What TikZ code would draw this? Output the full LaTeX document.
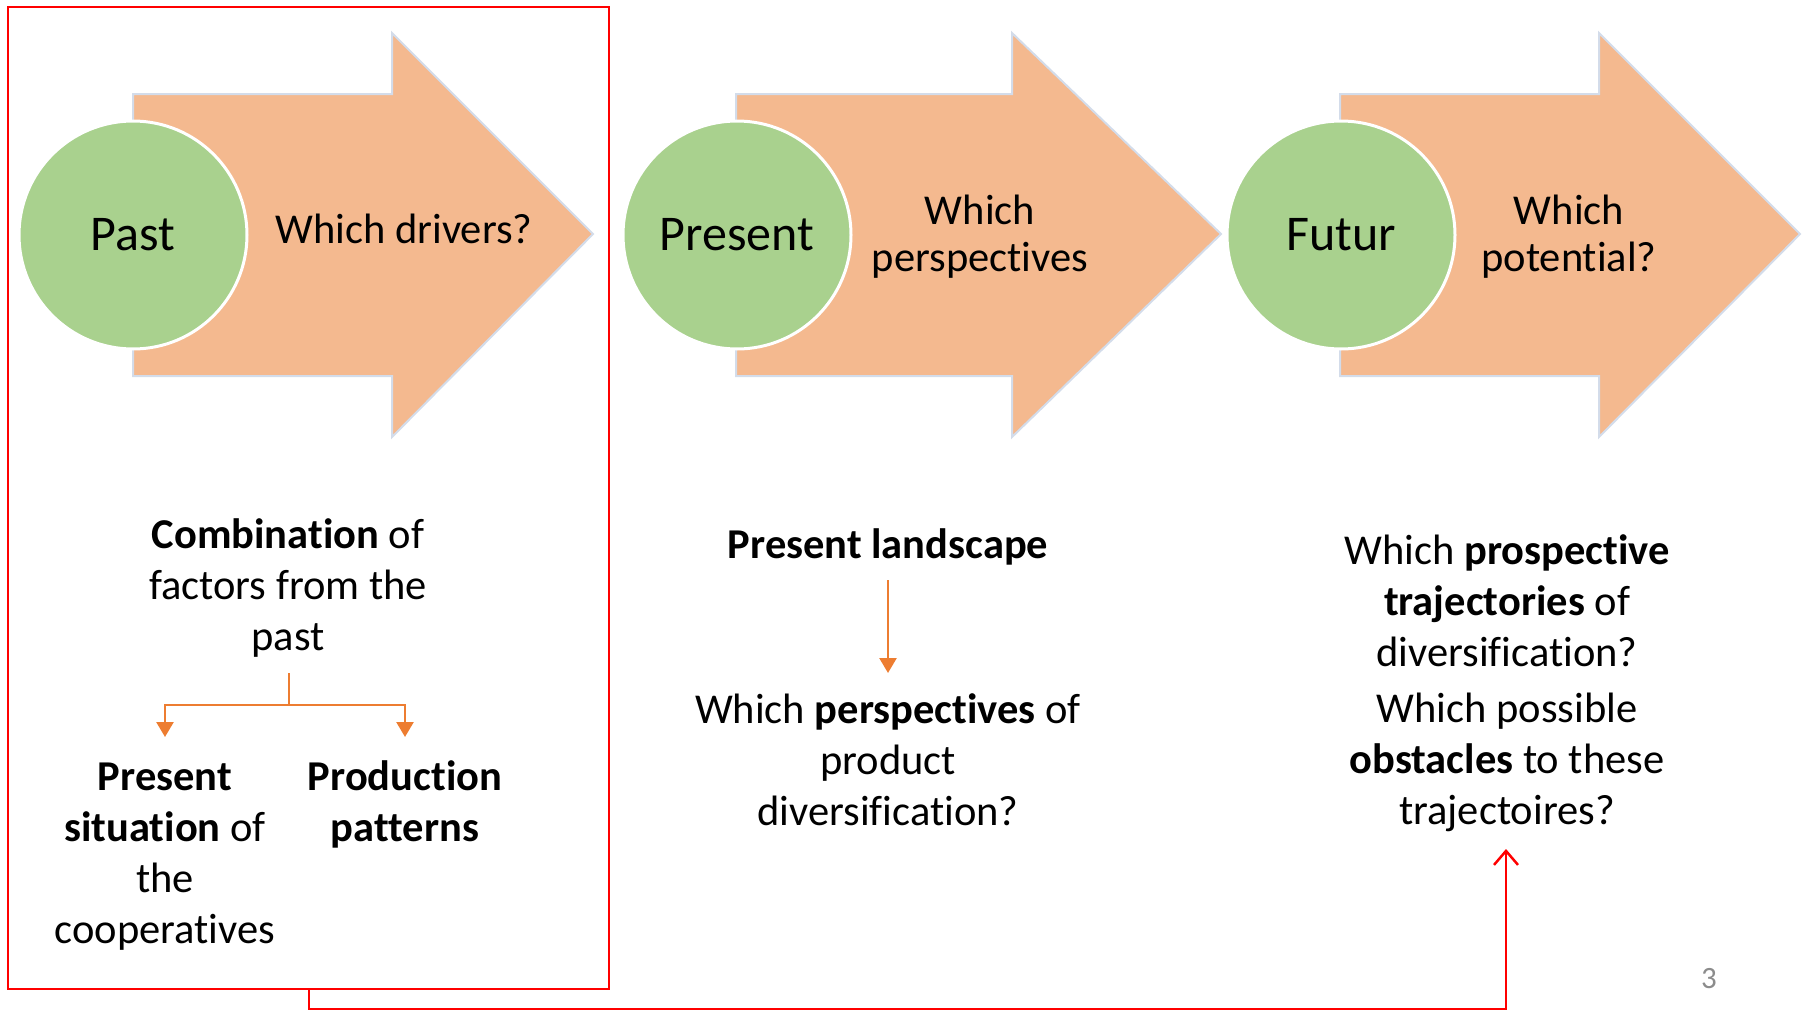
\documentclass[tikz,border=0pt]{standalone}
\usepackage{fontspec}
\setmainfont{Carlito}[Ligatures=NoCommon]
\usetikzlibrary{arrows.meta}
\definecolor{peach}{HTML}{F4B98F}
\definecolor{leaf}{HTML}{A9D18E}
\definecolor{edgeblue}{HTML}{D3DCEA}
\definecolor{orng}{HTML}{ED7D31}
\definecolor{boxred}{HTML}{FF0000}
\definecolor{pgnum}{HTML}{8C8C8C}
\begin{document}
\begin{tikzpicture}[x=1pt,y=-1pt,
  arrowshape/.style={fill=peach,draw=edgeblue,line width=2pt,line join=miter},
  phase/.style={circle,fill=leaf,draw=white,line width=3pt,minimum size=228pt,inner sep=0pt,
    font=\fontsize{50}{60}\selectfont},
  question/.style={align=center,inner sep=0pt,font=\fontsize{42.5}{47}\selectfont},
  body/.style={align=center,inner sep=0pt,font=\fontsize{42.5}{51}\selectfont},
  otree/.style={draw=orng,line width=2.5pt},
  otip/.style={-{Triangle[length=15pt,width=17pt]}},
  redline/.style={draw=boxred,line width=2.5pt}]
\useasboundingbox (0,0) rectangle (1808,1012);
% big arrows
\draw[arrowshape] (133,94) -- (392,94) -- (392,33) -- (593,234) -- (392,437) -- (392,376) -- (133,376) -- cycle;
\draw[arrowshape] (736,94) -- (1012,94) -- (1012,33) -- (1221,234) -- (1012,437) -- (1012,376) -- (736,376) -- cycle;
\draw[arrowshape] (1340,94) -- (1599,94) -- (1599,33) -- (1800,234) -- (1599,437) -- (1599,376) -- (1340,376) -- cycle;
% circles
\node[phase] (past) at (133,235) {Past};
\node[phase] (present) at (737,235) {Present};
\node[phase] (futur) at (1341,235) {Futur};
% questions
\node[question] (drivers) at (404,229) {Which drivers?};
\node[question] (persp) at (980,237) {Which\\perspectives};
\node[question] (potential) at (1569,237) {Which\\potential?};
% red box
\node[redline,draw,minimum width=601pt,minimum height=982pt,inner sep=0pt] (pastbox) at (308.5,498) {};
% left column
\node[body] (comb) at (288,588) {\textbf{Combination} of\\factors from the\\past};
\node[body] (sit) at (165,857) {\textbf{Present}\\\textbf{situation} of\\the\\cooperatives};
\node[body] (prod) at (405,804) {\textbf{Production}\\\textbf{patterns}};
\coordinate (combfoot) at (289,673);
\coordinate (split) at (289,705);
\coordinate (sittop) at (165,737);
\coordinate (prodtop) at (405,737);
\draw[otree] (combfoot) -- (split);
\draw[otree,otip] (split) -| (sittop);
\draw[otree,otip] (split) -| (prodtop);
% middle column
\node[body] (land) at (888,547) {\textbf{Present landscape}};
\node[body] (prodiv) at (888,760) {Which \textbf{perspectives} of\\product\\diversification?};
\coordinate (landfoot) at (888,580);
\coordinate (prodivtop) at (888,673);
\draw[otree,otip] (landfoot) -- (prodivtop);
% right column
\node[body] (traj) at (1507,601) {Which \textbf{prospective}\\\textbf{trajectories} of\\diversification?};
\node[body] (obst) at (1507,762) {Which possible\\\textbf{obstacles} to these\\trajectoires?};
% red connector
\coordinate (low1) at (309,1009);
\coordinate (low2) at (1506,1009);
\coordinate (obsttip) at (1506,849);
\draw[redline,-{Straight Barb[length=14pt,width=24pt]}] (pastbox.south -| low1) -- (low1) -- (low2) -- (obsttip);
% page number
\node[text=pgnum,font=\fontsize{31}{36}\selectfont,inner sep=0pt] (pg) at (1709,979) {3};
\end{tikzpicture}
\end{document}
